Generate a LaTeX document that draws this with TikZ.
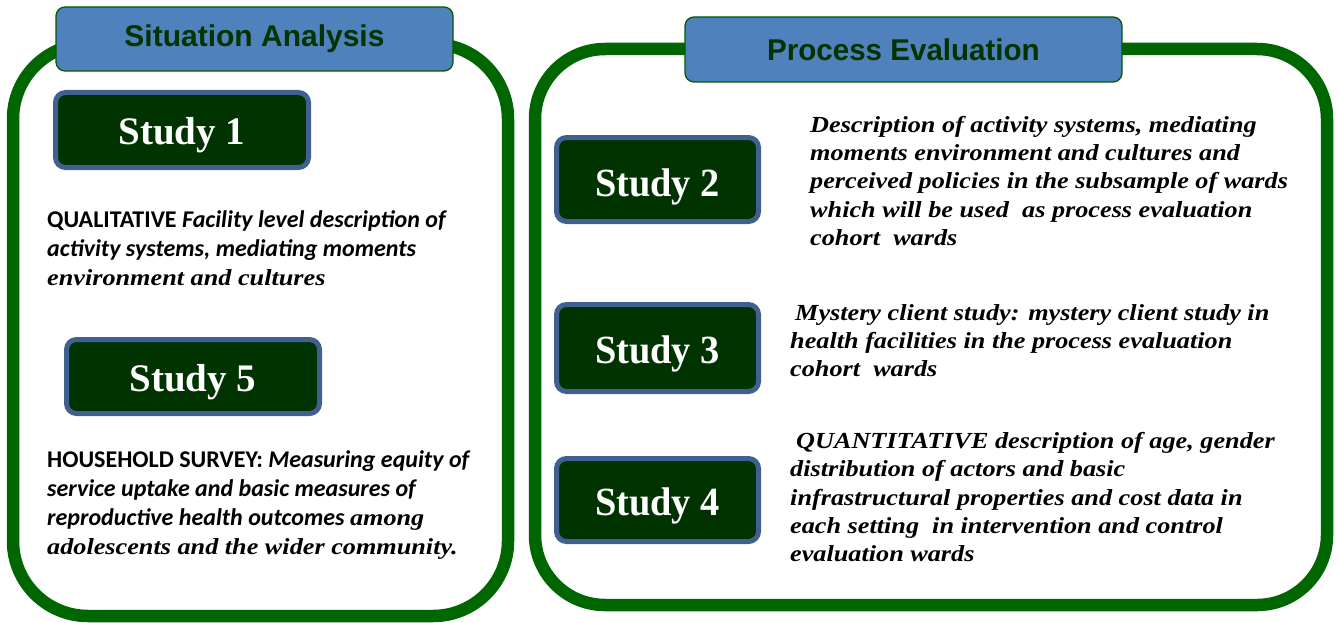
\documentclass[tikz,border=0pt]{standalone}
\usepackage{fontspec}
\setmainfont{Liberation Serif}
\newfontfamily\hdfont{Liberation Sans}
\newfontfamily\hdfontc{Liberation Sans}[FakeStretch=0.985]
\newfontfamily\calib{Carlito}
\newfontfamily\serifn{Liberation Serif}
\newfontfamily\serifw{Liberation Serif}[FakeStretch=1.14]
\newfontfamily\studyc{Liberation Serif}[FakeStretch=0.96]
\definecolor{bgreen}{RGB}{0,102,0}
\definecolor{hgreen}{RGB}{0,90,0}
\definecolor{hblue}{RGB}{79,129,189}
\definecolor{htext}{RGB}{0,51,0}
\definecolor{sgreen}{RGB}{0,51,0}
\definecolor{sblue}{RGB}{65,96,143}
\newcommand{\stlabel}[2]{\raisebox{#1}[0pt][0pt]{#2}}
\begin{document}
\begin{tikzpicture}[x=1pt,y=-1pt,
  bigbox/.style={draw=bgreen, line width=12.5pt, inner sep=0pt},
  header/.style={draw=hgreen, fill=hblue, line width=1.3pt, rounded corners=9pt, inner sep=0pt, text=htext},
  studybox/.style={draw=sblue, fill=sgreen, line width=5pt, rounded corners=10pt, inner sep=0pt, text=white},
  desc/.style={anchor=north west, inner sep=0pt, align=left, text=black}
]
\useasboundingbox (0,0) rectangle (1337,623);
% big frames
\node[bigbox, rounded corners=75pt, minimum width=495pt, minimum height=572pt] (lbox) at (260.5,330) {};
\node[bigbox, rounded corners=70pt, minimum width=792pt, minimum height=556pt] (rbox) at (931,327) {};
% headers
\node[header, minimum width=397pt, minimum height=64pt, font=\hdfont\bfseries\fontsize{30}{32}\selectfont] (hsa) at (254.5,39) {Situation Analysis};
\node[header, minimum width=437pt, minimum height=65pt, font=\hdfontc\bfseries\fontsize{30}{32}\selectfont] (hpe) at (903.5,49.5) {Process Evaluation};
% study boxes
\node[studybox, minimum width=253pt, minimum height=75pt, font=\serifn\bfseries\fontsize{39}{41}\selectfont] (s1) at (182,130) {\stlabel{-14.5pt}{Study 1}};
\node[studybox, minimum width=253pt, minimum height=74pt, font=\serifn\bfseries\fontsize{39}{41}\selectfont] (s5) at (193,376.5) {\stlabel{-14.5pt}{Study 5}};
\node[studybox, minimum width=202pt, minimum height=84pt, font=\studyc\bfseries\fontsize{40}{42}\selectfont] (s2) at (657.5,179.5) {\stlabel{-16.5pt}{Study 2}};
\node[studybox, minimum width=202pt, minimum height=87pt, font=\studyc\bfseries\fontsize{40}{42}\selectfont] (s3) at (657.5,348) {\stlabel{-15pt}{Study 3}};
\node[studybox, minimum width=202pt, minimum height=83pt, font=\studyc\bfseries\fontsize{40}{42}\selectfont] (s4) at (657.5,500) {\stlabel{-15pt}{Study 4}};
% left descriptions
\node[desc, font=\calib\bfseries\fontsize{24}{29.3}\selectfont] (t1) at (47,210)
 {QUALITATIVE \itshape Facility level description of\\
  \itshape activity systems, mediating moments\\
  {\serifw\bfseries\itshape\fontsize{23}{29.3}\selectfont environment and cultures}};
\node[desc, font=\calib\bfseries\fontsize{24}{29.3}\selectfont] (t5) at (47,450)
 {HOUSEHOLD SURVEY: \itshape Measuring equity of\\
  \itshape service uptake and basic measures of\\
  \itshape reproductive health outcomes {\serifw\bfseries\itshape\fontsize{23}{29.3}\selectfont among}\\
  {\serifw\bfseries\itshape\fontsize{23}{29.3}\selectfont adolescents and the wider community.}};
% right descriptions
\node[desc, font=\serifw\bfseries\itshape\fontsize{23}{28.3}\selectfont] (t2) at (810,116)
 {Description of activity systems, mediating\\
  moments environment and cultures and\\
  perceived policies in the subsample of wards\\
  which will be used\ \ as process evaluation\\
  cohort\ \ wards};
\node[desc, font=\serifw\bfseries\itshape\fontsize{23}{28.3}\selectfont] (t3) at (790,304)
 {\hspace{5pt}Mystery client study: mystery client study in\\
  health facilities in the process evaluation\\
  cohort\ \ wards};
\node[desc, font=\serifw\bfseries\itshape\fontsize{23}{28.3}\selectfont] (t4) at (790,432)
 {\hspace{6pt}QUANTITATIVE description of age, gender\\
  distribution of actors and basic\\
  infrastructural properties and cost data in\\
  each setting\ \ in intervention and control\\
  evaluation wards};
\end{tikzpicture}
\end{document}
